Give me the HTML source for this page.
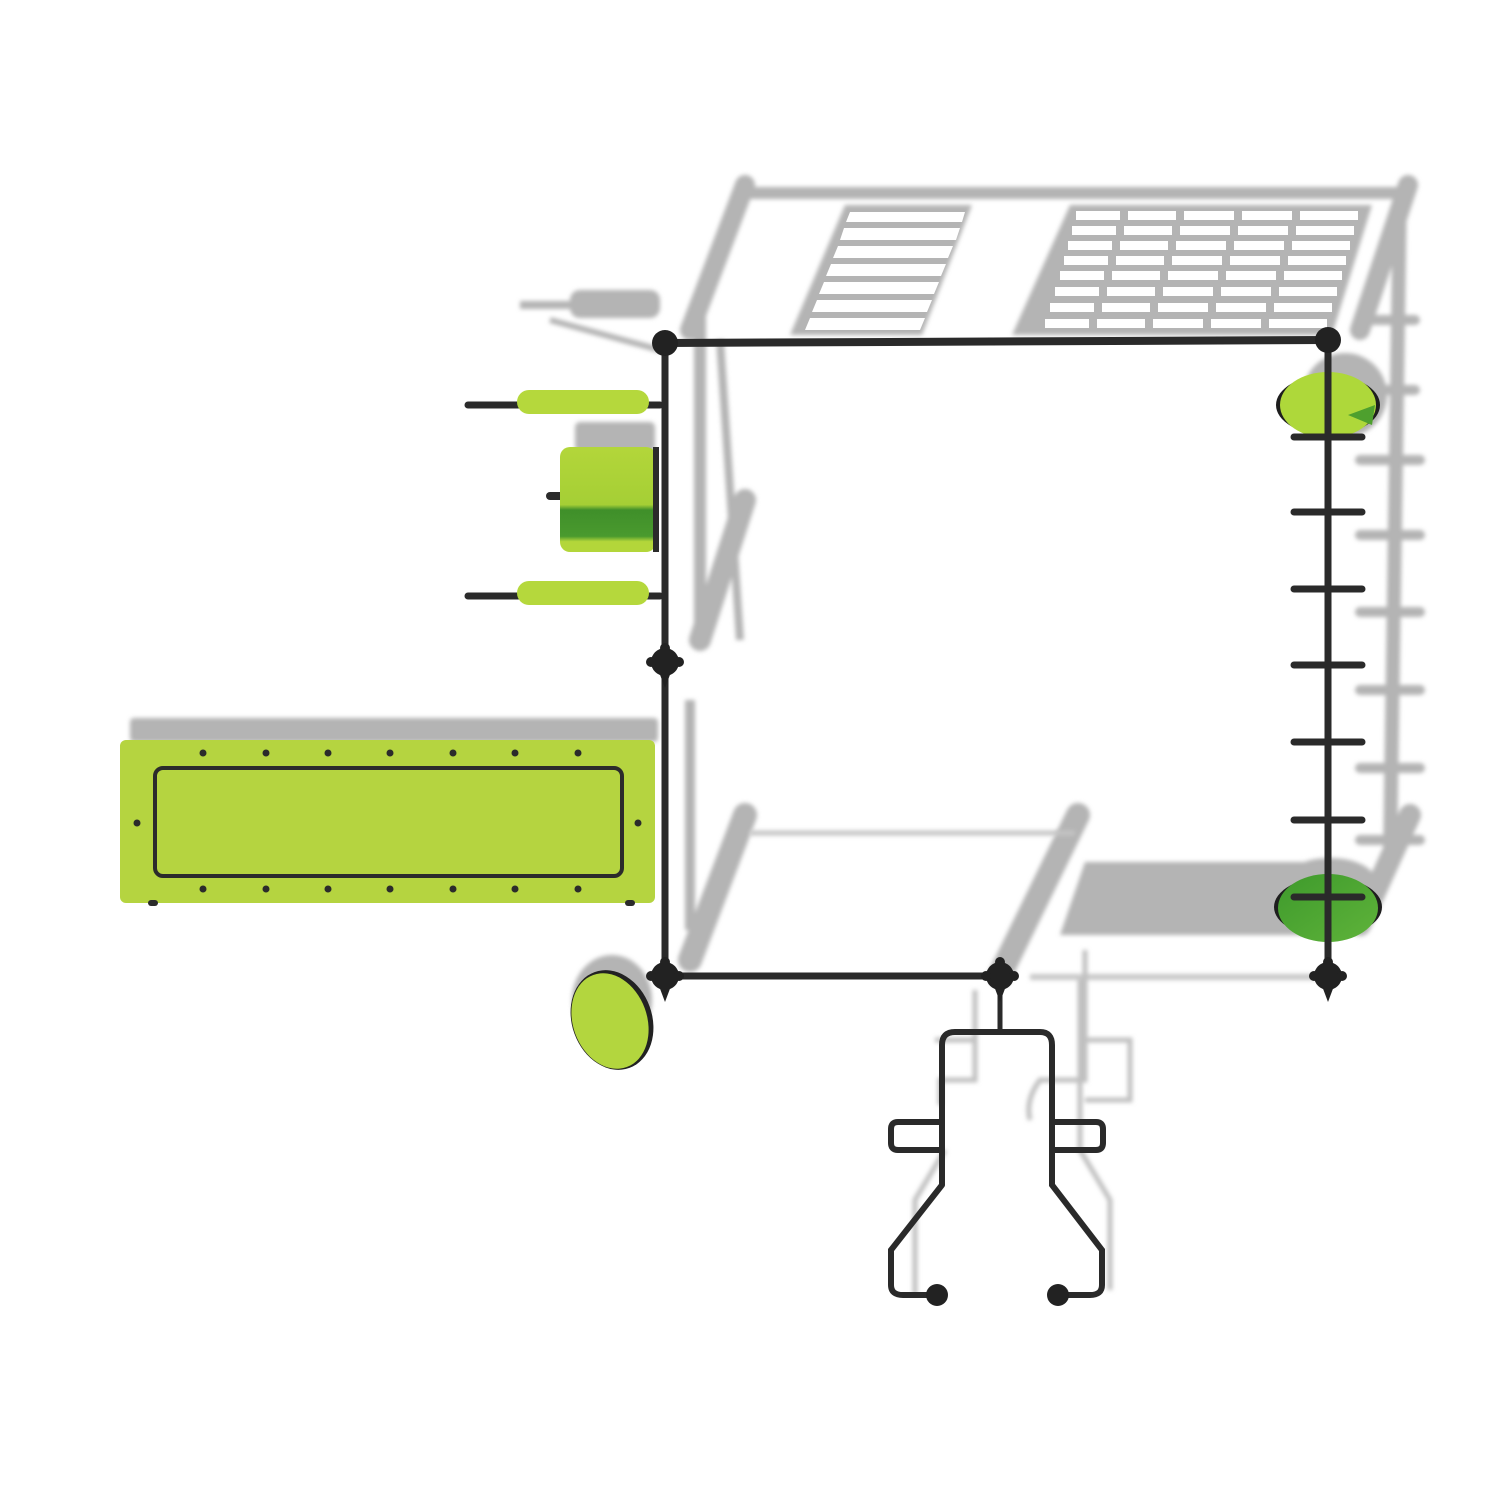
<!DOCTYPE html>
<html><head><meta charset="utf-8"><style>html,body{margin:0;padding:0;background:#fff}svg{display:block}</style></head>
<body>
<svg width="1500" height="1500" viewBox="0 0 1500 1500" xmlns="http://www.w3.org/2000/svg">
<defs>
<filter id="b" x="-10%" y="-10%" width="120%" height="120%"><feGaussianBlur stdDeviation="2"/></filter>
<linearGradient id="sq" x1="0" y1="0" x2="0" y2="1">
<stop offset="0" stop-color="#b3d63a"/><stop offset="0.55" stop-color="#a5cf35"/><stop offset="0.6" stop-color="#3f8f2a"/><stop offset="0.85" stop-color="#4a9a2e"/><stop offset="0.9" stop-color="#b3d63a"/></linearGradient>
<linearGradient id="dg" x1="0" y1="0" x2="1" y2="1"><stop offset="0" stop-color="#3e9a2c"/><stop offset="1" stop-color="#5fb33a"/></linearGradient>
<g id="j" fill="#222"><circle cx="0" cy="0" r="14"/><circle cx="0" cy="-14" r="5"/><circle cx="14" cy="0" r="5"/><circle cx="-14" cy="0" r="5"/><polygon points="-6,10 6,10 0,26"/></g>
<g id="row"><rect x="1076" y="211" width="44" height="9"/><rect x="1128" y="211" width="48" height="9"/><rect x="1184" y="211" width="50" height="9"/><rect x="1242" y="211" width="50" height="9"/><rect x="1300" y="211" width="58" height="9"/></g>
</defs>
<rect width="1500" height="1500" fill="#fff"/>
<g filter="url(#b)" fill="#b4b4b4" stroke="#b4b4b4">
 <line x1="745" y1="193" x2="1405" y2="193" stroke-width="12"/>
 <line x1="745" y1="185" x2="690" y2="330" stroke-width="20" stroke-linecap="round"/>
 <line x1="1408" y1="185" x2="1360" y2="330" stroke-width="20" stroke-linecap="round"/>
 <polygon points="845,205 972,205 922,335 790,335" stroke="none"/>
 <polygon points="1070,205 1372,205 1332,335 1012,335" stroke="none"/>
 <line x1="700" y1="300" x2="700" y2="640" stroke-width="12"/>
 <line x1="720" y1="340" x2="740" y2="640" stroke-width="8"/>
 <line x1="520" y1="305" x2="660" y2="305" stroke-width="8"/>
 <rect x="570" y="290" width="90" height="28" rx="10" stroke="none"/>
 <line x1="550" y1="320" x2="660" y2="350" stroke-width="6"/>
 <rect x="575" y="422" width="80" height="30" rx="5" stroke="none"/>
 <line x1="745" y1="500" x2="700" y2="640" stroke-width="22" stroke-linecap="round"/>
 <line x1="690" y1="700" x2="690" y2="930" stroke-width="10"/>
 <rect x="130" y="718" width="528" height="24" rx="4" stroke="none"/>
 <line x1="1400" y1="190" x2="1390" y2="860" stroke-width="14"/>
 <g stroke-width="10" stroke-linecap="round">
 <line x1="1365" y1="320" x2="1415" y2="320"/><line x1="1365" y1="390" x2="1415" y2="390"/>
 <line x1="1360" y1="460" x2="1420" y2="460"/><line x1="1360" y1="535" x2="1420" y2="535"/>
 <line x1="1360" y1="612" x2="1420" y2="612"/><line x1="1360" y1="690" x2="1420" y2="690"/>
 <line x1="1360" y1="768" x2="1420" y2="768"/><line x1="1360" y1="840" x2="1420" y2="840"/></g>
 <ellipse cx="1345" cy="395" rx="42" ry="42" stroke="none"/>
 <line x1="745" y1="815" x2="690" y2="960" stroke-width="24" stroke-linecap="round"/>
 <line x1="1078" y1="815" x2="1000" y2="975" stroke-width="24" stroke-linecap="round"/>
 <line x1="1410" y1="815" x2="1360" y2="925" stroke-width="22" stroke-linecap="round"/>
 <polygon points="1085,862 1330,862 1330,935 1060,935" stroke="none"/>
 <ellipse cx="1330" cy="880" rx="45" ry="22" stroke="none"/>
 <ellipse cx="612" cy="1000" rx="40" ry="45" stroke="none"/>
</g>
<g filter="url(#b)">
 <line x1="750" y1="833" x2="1075" y2="833" stroke="#c4c4c4" stroke-width="5"/>
 <line x1="1030" y1="977" x2="1320" y2="977" stroke="#c8c8c8" stroke-width="6"/>
 <path d="M975,990 V1080 H940 V1105 M1085,950 V1080 H1040 Q1025,1100 1030,1120 M975,1040 H935 M1085,1040 H1130 V1100 H1085" fill="none" stroke="#c0c0c0" stroke-width="5"/>
 <path d="M1080,980 V1150 L1110,1200 V1290 M945,1150 L915,1200 V1295" fill="none" stroke="#c0c0c0" stroke-width="5"/>
</g>
<g fill="#fff">
 <polygon points="850,212 965,212 962,222 846,222"/><polygon points="844,228 960,228 956,240 840,240"/>
 <polygon points="838,246 953,246 948,258 833,258"/><polygon points="831,264 946,264 941,276 826,276"/>
 <polygon points="824,282 939,282 934,294 819,294"/><polygon points="817,300 932,300 927,312 812,312"/>
 <polygon points="810,318 925,318 920,330 805,330"/>
</g>
<g fill="#fff">
 <use href="#row"/>
 <use href="#row" transform="translate(-4,15)"/><use href="#row" transform="translate(-8,30)"/><use href="#row" transform="translate(-12,45)"/>
 <use href="#row" transform="translate(-16,60)"/><use href="#row" transform="translate(-21,76)"/><use href="#row" transform="translate(-26,92)"/><use href="#row" transform="translate(-31,108)"/>
</g>
<rect x="120" y="740" width="535" height="163" rx="6" fill="#b5d440"/>
<rect x="155" y="768" width="467" height="108" rx="8" fill="none" stroke="#2b2b2b" stroke-width="4"/>
<g fill="#2b2b2b">
 <circle cx="203" cy="753" r="3.5"/><circle cx="266" cy="753" r="3.5"/><circle cx="328" cy="753" r="3.5"/><circle cx="390" cy="753" r="3.5"/><circle cx="453" cy="753" r="3.5"/><circle cx="515" cy="753" r="3.5"/><circle cx="578" cy="753" r="3.5"/>
 <circle cx="203" cy="889" r="3.5"/><circle cx="266" cy="889" r="3.5"/><circle cx="328" cy="889" r="3.5"/><circle cx="390" cy="889" r="3.5"/><circle cx="453" cy="889" r="3.5"/><circle cx="515" cy="889" r="3.5"/><circle cx="578" cy="889" r="3.5"/>
 <circle cx="137" cy="823" r="3.5"/><circle cx="638" cy="823" r="3.5"/>
 <rect x="148" y="900" width="10" height="6" rx="3"/><rect x="625" y="900" width="10" height="6" rx="3"/>
</g>
<g stroke="#2b2b2b" stroke-linecap="round">
 <line x1="468" y1="405" x2="660" y2="405" stroke-width="7"/>
 <line x1="468" y1="596" x2="660" y2="596" stroke-width="7"/>
 <line x1="550" y1="496" x2="562" y2="496" stroke-width="8"/>
</g>
<rect x="517" y="390" width="132" height="24" rx="12" fill="#b5d83c"/>
<rect x="517" y="581" width="132" height="24" rx="12" fill="#b5d83c"/>
<rect x="560" y="447" width="96" height="105" rx="10" fill="url(#sq)"/>
<rect x="653" y="447" width="6" height="105" fill="#2b2b2b"/>
<ellipse cx="612" cy="1020" rx="40" ry="51" transform="rotate(-20 612 1020)" fill="#222"/>
<ellipse cx="610" cy="1021" rx="37" ry="49" transform="rotate(-20 610 1021)" fill="#b3d63e"/>
<ellipse cx="1328" cy="405" rx="52" ry="30" fill="#1e1e1e"/>
<ellipse cx="1328" cy="405" rx="48" ry="33" fill="#aed83a"/>
<path d="M1348,415 L1375,405 L1372,425 Z" fill="#4ea02e"/>
<ellipse cx="1328" cy="907" rx="54" ry="30" fill="#1e1e1e"/>
<ellipse cx="1328" cy="908" rx="50" ry="34" fill="url(#dg)"/>
<g stroke="#2a2a2a" stroke-linecap="round" fill="none">
 <line x1="665" y1="343" x2="1328" y2="340" stroke-width="8"/>
 <line x1="665" y1="343" x2="665" y2="975" stroke-width="7"/>
 <line x1="1328" y1="340" x2="1328" y2="975" stroke-width="7"/>
 <line x1="665" y1="976" x2="1000" y2="976" stroke-width="7"/>
 <g stroke-width="7"><line x1="1294" y1="437" x2="1362" y2="437"/><line x1="1294" y1="512" x2="1362" y2="512"/><line x1="1294" y1="589" x2="1362" y2="589"/><line x1="1294" y1="665" x2="1362" y2="665"/><line x1="1294" y1="742" x2="1362" y2="742"/><line x1="1294" y1="820" x2="1362" y2="820"/><line x1="1294" y1="897" x2="1362" y2="897"/></g>
 <line x1="1000" y1="990" x2="1000" y2="1032" stroke-width="5"/>
 <path d="M942,1185 V1045 Q942,1032 955,1032 H1040 Q1052,1032 1052,1045 V1185 L1102,1250 V1285 Q1102,1295 1090,1295 H1058 M942,1185 L891,1250 V1285 Q891,1295 903,1295 H937" stroke-width="6"/>
 <path d="M942,1122 H898 Q891,1122 891,1129 V1143 Q891,1150 898,1150 H942 M1052,1122 H1096 Q1103,1122 1103,1129 V1143 Q1103,1150 1096,1150 H1052" stroke-width="6"/>
</g>
<g fill="#222">
 <circle cx="665" cy="343" r="13"/><circle cx="1328" cy="340" r="13"/>
 <use href="#j" transform="translate(665,662)"/>
 <use href="#j" transform="translate(665,976)"/>
 <use href="#j" transform="translate(1000,976)"/>
 <use href="#j" transform="translate(1328,976)"/>
 <circle cx="937" cy="1295" r="11"/><circle cx="1058" cy="1295" r="11"/>
</g>
</svg>
</body></html>
